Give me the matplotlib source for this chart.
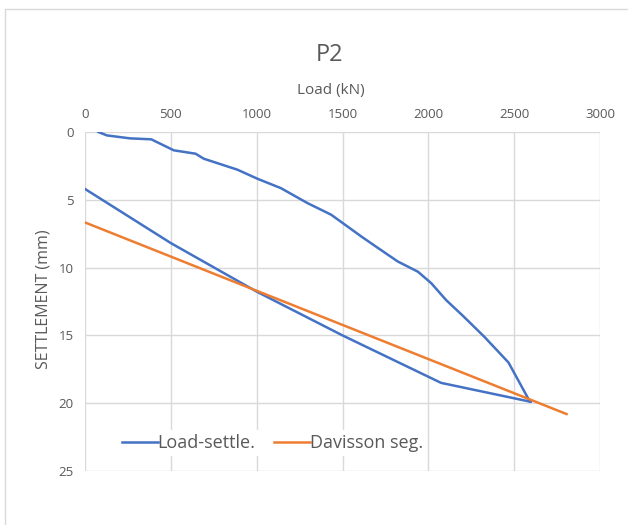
import matplotlib
matplotlib.use("Agg")
import matplotlib.pyplot as plt
from matplotlib.lines import Line2D

plt.rcParams['font.family'] = ['Open Sans', 'DejaVu Sans']

# load-settlement curve (loading then unloading)
load = [78, 127, 263, 386, 517, 644, 692, 888, 1005, 1141, 1297, 1434, 1609, 1666,
        1822, 1939, 2017, 2104, 2205, 2326, 2467, 2588,
        2598, 2074, 1500, 1000, 501, 0]
settle = [0, 0.25, 0.47, 0.54, 1.35, 1.6, 1.97, 2.78, 3.45, 4.14, 5.25, 6.1, 7.7, 8.2,
          9.55, 10.3, 11.15, 12.4, 13.6, 15.1, 17.0, 19.8,
          19.9, 18.5, 15.0, 11.77, 8.2, 4.2]

# Davisson offset line
dav_load = [0, 2805]
dav_settle = [6.67, 20.8]

grey = '#595959'

fig = plt.figure(figsize=(6.28, 5.25), dpi=100)
# chart frame (only top and left edges visible in the crop)
fig.lines.append(Line2D([5/628, 5/628, 1], [0, 1 - 8.5/525, 1 - 8.5/525],
                        transform=fig.transFigure, color='#d9d9d9', linewidth=1))
ax = fig.add_axes([85/628, 1 - 471/525, 515/628, 339/525])

ax.plot(load, settle, color='#4472C4', linewidth=1.8, label='Load-settle.')
ax.plot(dav_load, dav_settle, color='#ED7D31', linewidth=1.8, label='Davisson seg.')

ax.set_xlim(0, 3000)
ax.set_ylim(25, 0)
ax.set_xticks(range(0, 3001, 500))
ax.set_yticks(range(0, 26, 5))
ax.xaxis.tick_top()
ax.xaxis.set_label_position('top')
ax.tick_params(length=0, labelsize=9.5, labelcolor=grey, pad=8)
for s in ax.spines.values():
    s.set_visible(False)
ax.grid(True, color='#d9d9d9', linewidth=1)
ax.set_axisbelow(True)

ax.set_xlabel('Load (kN)', fontsize=11, color=grey)
ax.xaxis.set_label_coords((331 - 85) / 515, (471 - 94) / 339)
ax.set_ylabel('SETTLEMENT (mm)', fontsize=11.5, color=grey)
ax.yaxis.set_label_coords((51 - 85) / 515, (471 - 299) / 339)
fig.text(329/628, 1 - 55/525, 'P2', ha='center', va='center', fontsize=17, color=grey)

leg = ax.legend(loc='center left', bbox_to_anchor=((118 - 85) / 515, (471 - 443) / 339),
                ncol=2, frameon=True, fontsize=13, handlelength=2.0, handletextpad=0.0,
                columnspacing=1.0, borderpad=0.2, borderaxespad=0, labelcolor=grey)
leg.get_frame().set_edgecolor('none')
leg.get_frame().set_facecolor('white')
leg.get_frame().set_alpha(1)

fig.savefig('out.png', dpi=100)
